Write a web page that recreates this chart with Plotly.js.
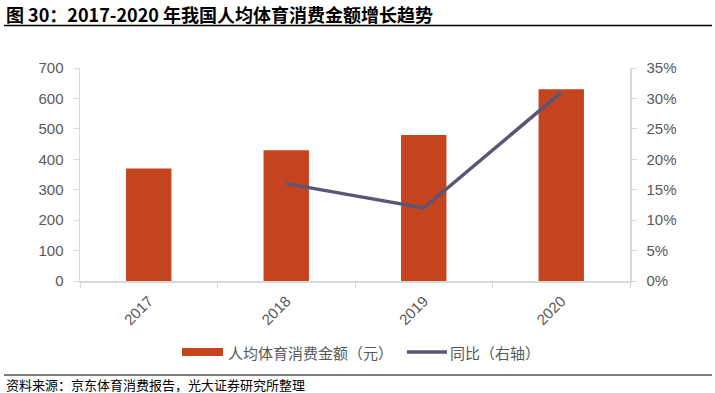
<!DOCTYPE html>
<html><head><meta charset="utf-8">
<script src="https://cdn.plot.ly/plotly-3.0.1.min.js"></script>
<style>html,body{margin:0;padding:0;background:#fff}#c{width:715px;height:393px}</style>
</head><body><div id="c"></div>
<script>
const years = ['2017','2018','2019','2020'];
const spending = [370, 430, 480, 630];
const growthYears = ['2018','2019','2020'];
const growth = [0.16, 0.12, 0.31];
const leftTicks = [0,100,200,300,400,500,600,700];
const rightTicks = [0,0.05,0.10,0.15,0.20,0.25,0.30,0.35];
const barName = '人均体育消费金额（元）';
const lineName = '同比（右轴）';

const fontFam = 'Liberation Sans, Arial, "Noto Sans CJK SC", sans-serif';
const cjk = '"Noto Sans CJK SC", sans-serif';
const gray = '#595959';
const barColor = '#C4441F';
const lineColor = '#5B5676';

// pixel -> paper helpers (plot area: x 80..630, y 68..281)
const px = v => (v - 80) / 550;
const py = v => (281 - v) / 213;

const data = [
  {type:'bar', x:years, y:spending, name:barName,
   marker:{color:barColor}, yaxis:'y'},
  {type:'scatter', mode:'lines', x:growthYears, y:growth, name:lineName,
   line:{color:lineColor, width:3.5}, yaxis:'y2'}
];

const layout = {
  width:715, height:393,
  margin:{l:80, r:85, t:68, b:112},
  paper_bgcolor:'#fff', plot_bgcolor:'#fff',
  bargap:0.67,
  showlegend:false,
  xaxis:{type:'category', categoryorder:'array', categoryarray:years,
         showline:true, linecolor:'#d9d9d9', linewidth:1.5,
         ticks:'outside', tickson:'boundaries', ticklen:5, tickcolor:'#d9d9d9',
         tickangle:-45, tickfont:{family:fontFam, size:15, color:gray},
         ticklabelstandoff:4,
         showgrid:false, zeroline:false},
  yaxis:{range:[0,700], tickvals:leftTicks, ticktext:leftTicks.map(String),
         showline:true, linecolor:'#d9d9d9', linewidth:1.5,
         ticks:'outside', ticklen:5, tickcolor:'#d9d9d9',
         tickfont:{family:fontFam, size:15, color:gray},
         showgrid:false, zeroline:false, ticklabelstandoff:7},
  yaxis2:{range:[0,0.35], tickvals:rightTicks, ticktext:rightTicks.map(v=>Math.round(v*100)+'%'),
          overlaying:'y', side:'right',
          showline:true, linecolor:'#d9d9d9', linewidth:1.5,
          ticks:'outside', ticklen:5, tickcolor:'#d9d9d9',
          tickfont:{family:fontFam, size:15, color:gray},
          showgrid:false, zeroline:false, ticklabelstandoff:7},
  annotations:[
    {text:'<b>图 30：2017-2020 年我国人均体育消费金额增长趋势</b>', xref:'paper', yref:'paper',
     x:px(4), y:py(14), xanchor:'left', yanchor:'middle', showarrow:false,
     font:{family:cjk, size:18, color:'#000'}},
    {text:'资料来源：京东体育消费报告，光大证券研究所整理', xref:'paper', yref:'paper',
     x:px(4), y:py(384), xanchor:'left', yanchor:'middle', showarrow:false,
     font:{family:cjk, size:13, color:'#000'}},
    {text:barName, xref:'paper', yref:'paper', x:px(226), y:py(352),
     xanchor:'left', yanchor:'middle', showarrow:false,
     font:{family:cjk, size:15, color:gray}},
    {text:lineName, xref:'paper', yref:'paper', x:px(448), y:py(352),
     xanchor:'left', yanchor:'middle', showarrow:false,
     font:{family:cjk, size:15, color:gray}}
  ],
  shapes:[
    {type:'line', xref:'paper', yref:'paper', x0:px(4), x1:px(712),
     y0:py(25.5), y1:py(25.5), line:{color:'#000', width:1.5}},
    {type:'line', xref:'paper', yref:'paper', x0:px(4), x1:px(712),
     y0:py(375), y1:py(375), line:{color:'#000', width:1.2}},
    {type:'rect', xref:'paper', yref:'paper', x0:px(182), x1:px(223),
     y0:py(356), y1:py(348), fillcolor:barColor, line:{width:0}},
    {type:'line', xref:'paper', yref:'paper', x0:px(407), x1:px(447),
     y0:py(352), y1:py(352), line:{color:lineColor, width:3.5}}
  ]
};
Plotly.newPlot('c', data, layout, {displayModeBar:false, staticPlot:true});
</script></body></html>
